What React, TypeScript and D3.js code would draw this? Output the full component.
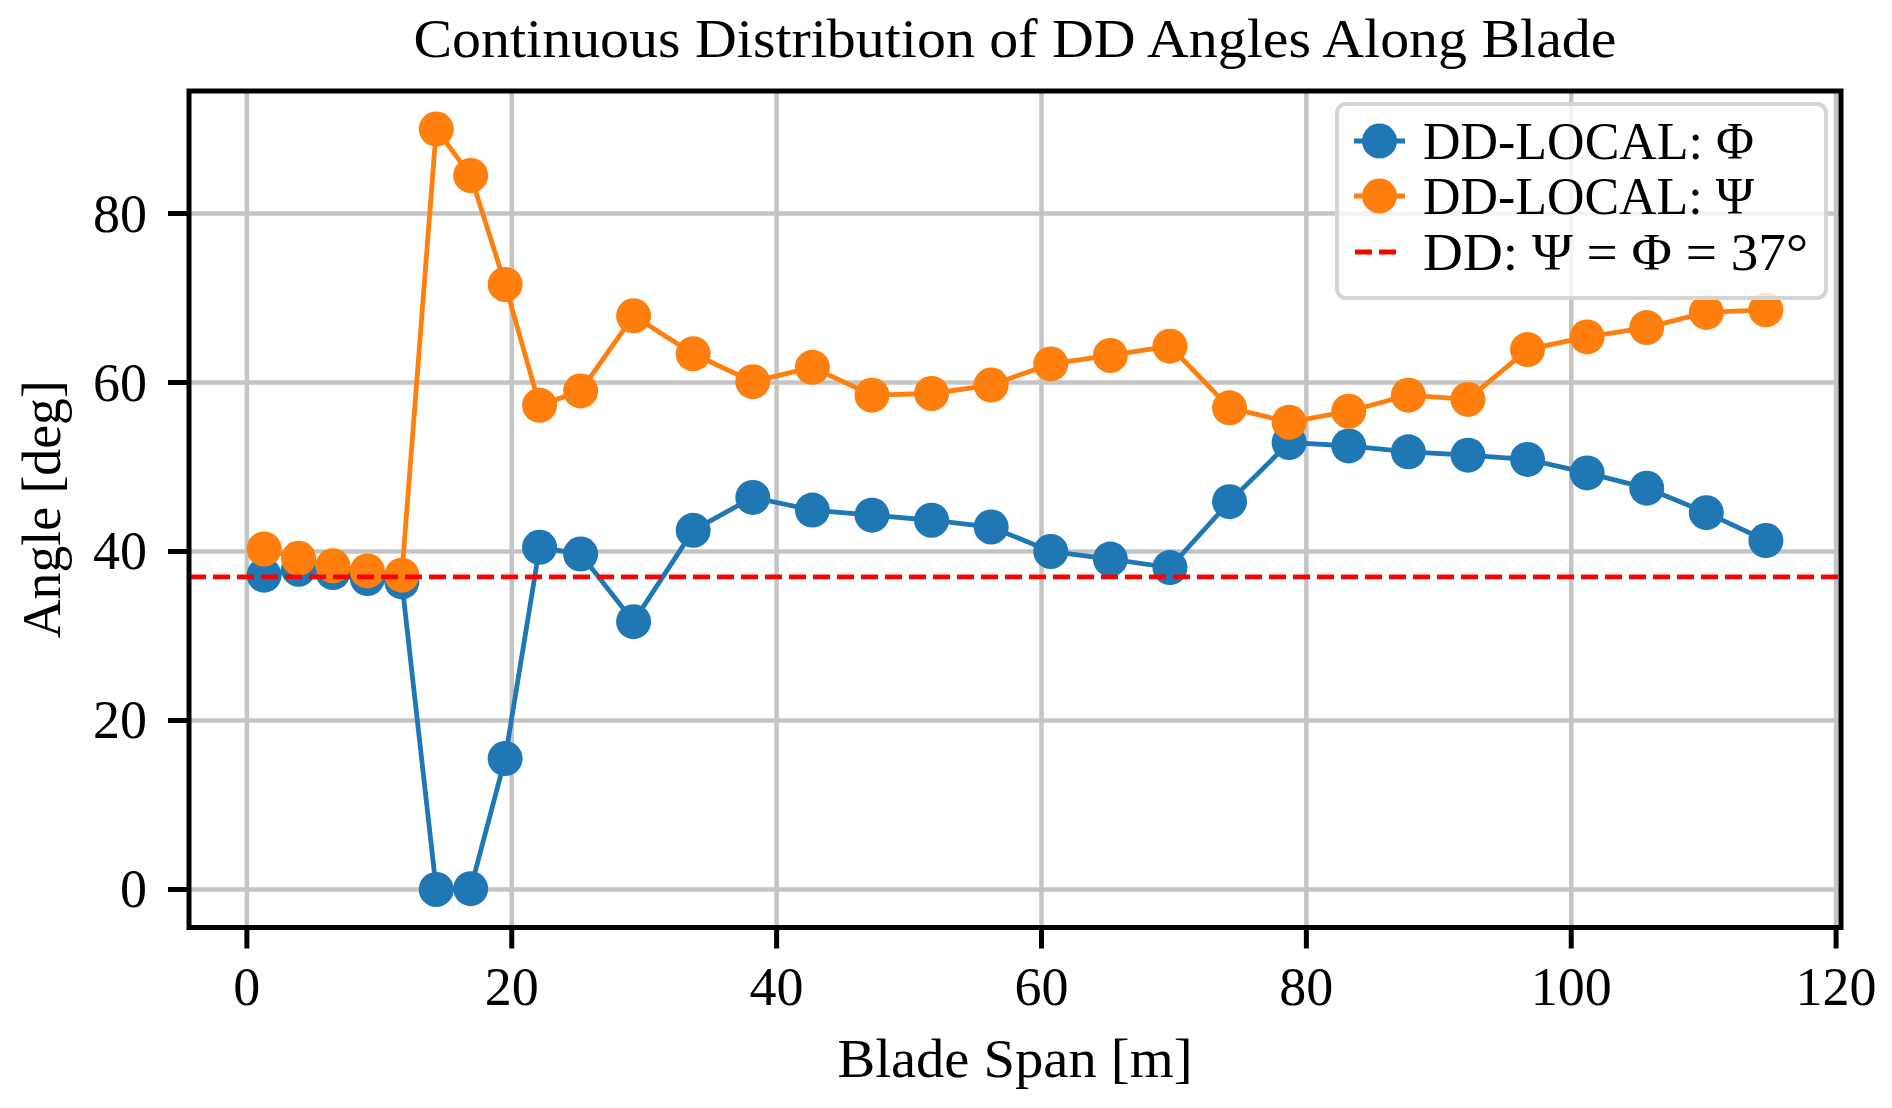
import * as d3 from "d3";

// blade span stations [m]
const span = [
  1.3, 3.9, 6.5, 9.1, 11.7, 14.3, 16.9, 19.5, 22.1, 25.2, 29.2, 33.7, 38.2,
  42.7, 47.2, 51.7, 56.2, 60.7, 65.2, 69.7, 74.2, 78.7, 83.2, 87.7, 92.2, 96.7,
  101.2, 105.7, 110.2, 114.7,
];
// DD-LOCAL angles [deg]
const phi = [
  37.2, 37.9, 37.5, 36.8, 36.4, 0.0, 0.1, 15.5, 40.5, 39.7, 31.7, 42.5, 46.4,
  44.9, 44.3, 43.7, 42.9, 40.0, 39.1, 38.1, 45.9, 52.9, 52.5, 51.8, 51.4, 50.9,
  49.3, 47.5, 44.6, 41.3,
];
const psi = [
  40.3, 39.2, 38.3, 37.7, 37.2, 90.0, 84.5, 71.6, 57.3, 59.0, 67.9, 63.4, 60.1,
  61.8, 58.5, 58.7, 59.7, 62.2, 63.2, 64.3, 57.0, 55.3, 56.6, 58.5, 58.0, 63.9,
  65.4, 66.5, 68.3, 68.6,
];
const ddAngle = 37;

const xTicks = [0, 20, 40, 60, 80, 100, 120];
const yTicks = [0, 20, 40, 60, 80];

const seriesNames = ["DD-LOCAL: Φ", "DD-LOCAL: Ψ"];
const refName = "DD: Ψ = Φ = 37°";
const seriesColors = ["#1f77b4", "#ff7f0e"];

const font = "'Liberation Serif', 'DejaVu Serif', serif";

// pad a range by 5% like matplotlib does
function padded(lo: number, hi: number): [number, number] {
  const m = (hi - lo) * 0.05;
  return [lo - m, hi + m];
}

export default function App() {
  const width = 1892;
  const height = 1108;
  const margin = { top: 91, right: 51, bottom: 180.5, left: 189 };
  const plotRight = width - margin.right;
  const plotBottom = height - margin.bottom;

  const [xMin, xMax] = d3.extent(span) as [number, number];
  const yAll = phi.concat(psi);
  const [yMin, yMax] = d3.extent(yAll) as [number, number];

  const xScale = d3
    .scaleLinear()
    .domain(padded(xMin, xMax))
    .range([margin.left, plotRight]);
  const yScale = d3
    .scaleLinear()
    .domain(padded(yMin, yMax))
    .range([plotBottom, margin.top]);

  const line = d3
    .line<number>()
    .x((_, i) => xScale(span[i]))
    .y((d) => yScale(d));

  const series = [phi, psi];

  const legend = { x: 1337, y: 104, w: 489, h: 194 };
  const rowY = [141, 196, 252];
  const lw = 4.8;
  const r = 17.5;
  const gridColor = "#c4c4c4";

  return (
    <svg
      width={width}
      height={height}
      style={{ position: "absolute", left: 0, top: 0, background: "white" }}
      fontFamily={font}
    >
      {/* title */}
      <text
        x={(margin.left + plotRight) / 2}
        y={57}
        textAnchor="middle"
        fontSize={55}
        textLength={1203}
        lengthAdjust="spacingAndGlyphs"
      >
        Continuous Distribution of DD Angles Along Blade
      </text>

      {/* grid */}
      {xTicks.map((t) => (
        <line
          key={"gx" + t}
          x1={xScale(t)}
          x2={xScale(t)}
          y1={margin.top}
          y2={plotBottom}
          stroke={gridColor}
          strokeWidth={4.5}
        />
      ))}
      {yTicks.map((t) => (
        <line
          key={"gy" + t}
          x1={margin.left}
          x2={plotRight}
          y1={yScale(t)}
          y2={yScale(t)}
          stroke={gridColor}
          strokeWidth={4.5}
        />
      ))}

      {/* series */}
      {series.map((s, k) => (
        <g key={"s" + k}>
          <path d={line(s) ?? ""} fill="none" stroke={seriesColors[k]} strokeWidth={lw} />
          {s.map((v, i) => (
            <circle key={i} cx={xScale(span[i])} cy={yScale(v)} r={r} fill={seriesColors[k]} />
          ))}
        </g>
      ))}

      {/* reference DD angle */}
      <line
        x1={margin.left}
        x2={plotRight}
        y1={yScale(ddAngle)}
        y2={yScale(ddAngle)}
        stroke="red"
        strokeWidth={lw}
        strokeDasharray="17,7"
      />

      {/* spines */}
      <rect
        x={margin.left}
        y={margin.top}
        width={plotRight - margin.left}
        height={plotBottom - margin.top}
        fill="none"
        stroke="black"
        strokeWidth={5}
      />

      {/* x ticks */}
      {xTicks.map((t) => (
        <g key={"xt" + t}>
          <line x1={xScale(t)} x2={xScale(t)} y1={plotBottom} y2={plotBottom + 21} stroke="black" strokeWidth={5} />
          <text x={xScale(t)} y={1005} textAnchor="middle" fontSize={54}>
            {t}
          </text>
        </g>
      ))}
      {/* y ticks */}
      {yTicks.map((t) => (
        <g key={"yt" + t}>
          <line x1={margin.left - 21} x2={margin.left} y1={yScale(t)} y2={yScale(t)} stroke="black" strokeWidth={5} />
          <text x={147} y={yScale(t)} textAnchor="end" dominantBaseline="central" fontSize={54}>
            {t}
          </text>
        </g>
      ))}

      {/* axis labels */}
      <text
        x={(margin.left + plotRight) / 2}
        y={1077}
        textAnchor="middle"
        fontSize={55}
        textLength={355}
        lengthAdjust="spacingAndGlyphs"
      >
        Blade Span [m]
      </text>
      <text
        transform={`translate(60, ${(margin.top + plotBottom) / 2}) rotate(-90)`}
        textAnchor="middle"
        fontSize={55}
        textLength={258}
        lengthAdjust="spacingAndGlyphs"
      >
        Angle [deg]
      </text>

      {/* legend */}
      <rect
        x={legend.x}
        y={legend.y}
        width={legend.w}
        height={legend.h}
        rx={9}
        fill="white"
        fillOpacity={0.8}
        stroke="#d4d4d4"
        strokeWidth={4}
      />
      {seriesNames.map((name, k) => (
        <g key={"lg" + k}>
          <line x1={1354} x2={1405} y1={rowY[k]} y2={rowY[k]} stroke={seriesColors[k]} strokeWidth={lw} />
          <circle cx={1379.5} cy={rowY[k]} r={r} fill={seriesColors[k]} />
          <text
            x={1423}
            y={rowY[k]}
            dominantBaseline="central"
            fontSize={52}
            textLength={331}
            lengthAdjust="spacingAndGlyphs"
          >
            {name}
          </text>
        </g>
      ))}
      <line x1={1355} x2={1398} y1={rowY[2]} y2={rowY[2]} stroke="red" strokeWidth={lw} strokeDasharray="17,7" />
      <text
        x={1423}
        y={rowY[2]}
        dominantBaseline="central"
        fontSize={52}
        textLength={385}
        lengthAdjust="spacingAndGlyphs"
      >
        {refName}
      </text>
    </svg>
  );
}
